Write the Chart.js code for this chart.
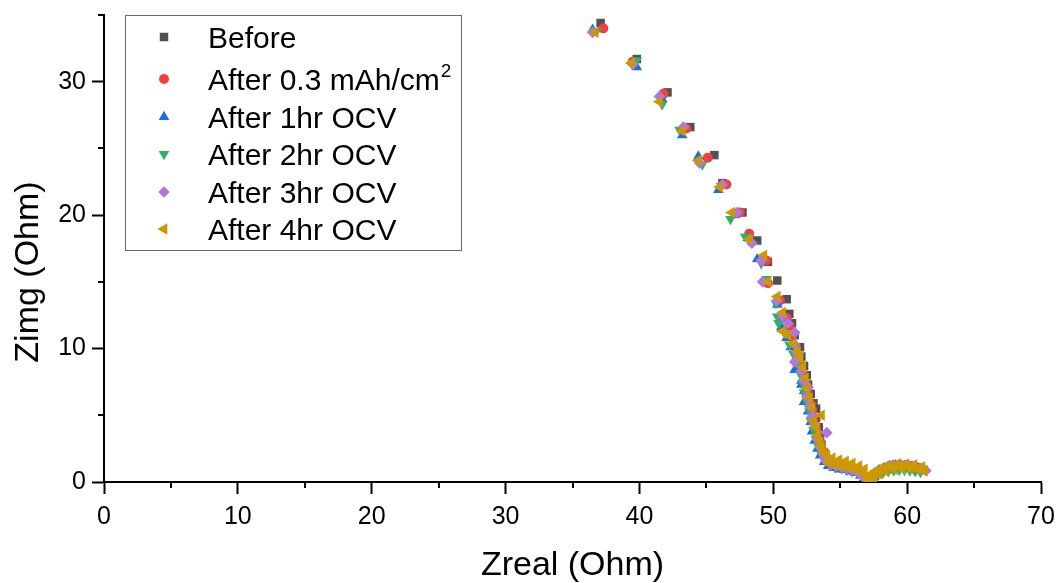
<!DOCTYPE html>
<html>
<head>
<meta charset="utf-8">
<title>Nyquist</title>
<script src="https://cdn.jsdelivr.net/npm/chart.js@4/dist/chart.umd.min.js"></script>
<style>
  html, body { margin: 0; padding: 0; background: #fff; }
  #wrap { width: 1057px; height: 583px; }
</style>
</head>
<body>
<div id="wrap"><canvas id="nyquist" width="1057" height="583"></canvas></div>
<script>
// ========== Datos ==========
const xTickLabels = [0, 10, 20, 30, 40, 50, 60, 70];
const yTickLabels = [0, 10, 20, 30];

const xTitle = "Zreal (Ohm)";
const yTitle = "Zimg (Ohm)";

const seriesNames = [
  "Before",
  "After 0.3 mAh/cm^2",
  "After 1hr OCV",
  "After 2hr OCV",
  "After 3hr OCV",
  "After 4hr OCV",
];

// [Zreal, Zimg] in Ohm
const before = [
  [37.1, 34.4], [39.8, 31.7], [42.1, 29.2], [43.8, 26.6], [45.6, 24.5], [46.2, 22.4],
  [47.7, 20.2], [48.8, 18.1], [49.6, 16.5], [50.3, 15.1], [51.0, 13.7], [51.2, 12.6],
  [51.4, 11.9], [51.6, 11.0], [52.0, 10.1], [52.1, 9.4], [52.3, 8.7], [52.5, 8.0],
  [52.6, 7.3], [52.8, 6.6], [53.0, 5.9], [53.2, 5.5], [53.2, 4.8], [53.4, 4.1],
  [53.5, 3.4], [53.6, 2.8], [53.8, 2.2], [54.1, 1.65], [54.5, 1.3], [54.9, 1.15],
  [55.3, 1.05], [55.7, 0.95], [56.1, 0.8], [56.5, 0.6], [56.8, 0.35], [57.0, 0.15],
  [57.3, 0.15], [57.6, 0.45], [57.9, 0.65], [58.3, 0.85], [58.7, 1.0], [59.1, 1.1],
  [59.5, 1.15], [59.9, 1.15], [60.3, 1.1], [60.7, 1.0], [61.1, 0.9],
];

const after03 = [
  [37.3, 34.0], [39.5, 31.5], [41.8, 29.1], [43.5, 26.5], [45.1, 24.3], [46.5, 22.3],
  [47.5, 20.2], [48.2, 18.6], [49.5, 16.6], [49.6, 14.9], [50.5, 13.6], [51.0, 12.3],
  [51.2, 11.7], [51.3, 10.9], [51.5, 10.2], [51.8, 9.5], [52.0, 8.8], [52.2, 8.1],
  [52.4, 7.4], [52.5, 6.7], [52.7, 6.0], [52.9, 5.4], [53.0, 4.7], [53.2, 4.0],
  [53.3, 3.4], [53.5, 2.8], [53.7, 2.2], [54.0, 1.7], [54.4, 1.35], [54.8, 1.2],
  [55.2, 1.1], [55.6, 1.0], [56.0, 0.9], [56.4, 0.75], [56.7, 0.5], [57.0, 0.25],
  [57.3, 0.25], [57.6, 0.6], [57.9, 0.85], [58.3, 1.05], [58.7, 1.2], [59.1, 1.25],
  [59.5, 1.25], [59.9, 1.25], [60.3, 1.2], [60.7, 1.1], [61.1, 0.95],
];

const after1hr = [
  [36.5, 33.9], [39.8, 31.1], [41.7, 28.7], [43.2, 26.0], [44.4, 24.4], [45.9, 21.9],
  [47.1, 20.0], [48.1, 18.3], [48.8, 16.7], [49.4, 15.0], [50.3, 13.3], [50.6, 12.2],
  [50.6, 11.6], [51.0, 10.8], [51.3, 10.1], [51.7, 9.3], [51.6, 8.4], [52.1, 7.6],
  [52.1, 7.3], [52.3, 6.8], [52.3, 6.0], [52.6, 5.3], [52.8, 4.5], [52.9, 3.8],
  [53.1, 3.1], [53.3, 2.5], [53.5, 2.0], [53.8, 1.5], [54.1, 1.2], [54.5, 1.05],
  [54.9, 0.95], [55.3, 0.9], [55.7, 0.8], [56.1, 0.7], [56.5, 0.5], [56.8, 0.3],
  [57.0, 0.1], [57.3, 0.3], [57.6, 0.65], [57.9, 0.9], [58.3, 1.05], [58.7, 1.2],
  [59.1, 1.25], [59.5, 1.25], [59.9, 1.2], [60.3, 1.15], [60.7, 1.05], [61.1, 0.95],
];

const after2hr = [
  [36.8, 33.8], [39.8, 31.6], [41.7, 28.3], [43.0, 26.4], [44.7, 23.8], [46.1, 22.2],
  [46.8, 19.7], [47.9, 18.4], [49.1, 16.4], [49.5, 15.2], [50.2, 13.4], [50.3, 12.4],
  [50.4, 11.9], [50.9, 11.1], [51.2, 10.3], [51.5, 9.6], [51.8, 8.9], [52.0, 8.1],
  [52.2, 7.4], [52.3, 6.7], [52.5, 6.0], [52.7, 5.3], [52.8, 4.6], [53.0, 3.9],
  [53.2, 3.2], [53.4, 2.6], [53.6, 2.1], [53.9, 1.6], [54.3, 1.25], [54.7, 1.1],
  [55.1, 1.0], [55.5, 0.9], [55.9, 0.8], [56.3, 0.65], [56.7, 0.4], [56.9, 0.2],
  [57.2, 0.1], [57.5, 0.35], [57.8, 0.55], [58.2, 0.7], [58.6, 0.8], [59.0, 0.85],
  [59.4, 0.9], [59.8, 0.9], [60.2, 0.85], [60.6, 0.8], [61.0, 0.75],
];

const after3hr = [
  [36.5, 33.7], [39.5, 31.3], [41.5, 28.9], [43.3, 26.6], [44.5, 23.9], [46.2, 22.3],
  [47.3, 20.2], [48.4, 17.9], [49.1, 16.6], [49.2, 15.0], [50.3, 13.6], [50.7, 12.4],
  [51.1, 11.9], [51.6, 11.2], [51.6, 10.3], [51.8, 9.6], [51.6, 9.0], [52.1, 8.3],
  [52.3, 7.6], [52.6, 7.1], [52.5, 6.4], [52.7, 5.7], [52.9, 4.9], [53.1, 4.3],
  [54.0, 3.7], [53.3, 3.2], [53.5, 2.6], [53.7, 2.1], [53.9, 1.65], [54.3, 1.3],
  [54.7, 1.2], [55.1, 1.1], [55.5, 1.0], [55.9, 0.9], [56.3, 0.75], [56.6, 0.5],
  [56.9, 0.3], [57.2, 0.2], [57.5, 0.5], [57.8, 0.75], [58.2, 0.95], [58.6, 1.15],
  [59.0, 1.25], [59.4, 1.3], [59.8, 1.25], [60.2, 1.2], [60.6, 1.1], [61.0, 1.0],
  [61.4, 0.85],
];

const after4hr = [
  [36.7, 33.7], [39.4, 31.4], [41.5, 28.5], [43.2, 26.3], [44.4, 24.1], [46.0, 22.1],
  [46.9, 20.2], [48.2, 18.2], [49.3, 17.0], [49.6, 15.0], [50.3, 13.9], [50.7, 12.7],
  [50.7, 11.3], [51.1, 11.0], [51.5, 10.4], [51.8, 9.8], [52.0, 9.3], [52.2, 8.6],
  [52.4, 7.8], [52.5, 7.0], [52.7, 6.3], [52.9, 5.6], [53.6, 5.0], [53.0, 4.6],
  [53.2, 4.1], [53.3, 3.5], [53.5, 3.0], [53.6, 2.6], [53.8, 2.2], [54.0, 2.0],
  [54.1, 1.45], [54.4, 1.8], [54.6, 1.3], [54.9, 1.65], [55.1, 1.2], [55.4, 1.55],
  [55.6, 1.1], [55.9, 1.4], [56.1, 0.95], [56.4, 1.2], [56.6, 0.75], [56.8, 0.95],
  [57.0, 0.4], [57.1, 0.15], [57.3, 0.5], [57.5, 0.3], [57.6, 0.8], [57.9, 0.6],
  [58.1, 1.05], [58.4, 0.8], [58.7, 1.25], [59.0, 0.95], [59.3, 1.35], [59.6, 1.0],
  [59.9, 1.35], [60.2, 1.0], [60.5, 1.3], [60.8, 0.95], [61.1, 1.15], [61.3, 0.85],
];

const seriesData = [before, after03, after1hr, after2hr, after3hr, after4hr];

// ========== Estilos ==========
const FONT = "'Liberation Sans', Arial, sans-serif";

const markers = [
  { style: "rect", color: "#515151", radius: 6, rotation: 0 },
  { style: "circle", color: "#F14040", radius: 5, rotation: 0 },
  { style: "triangle", color: "#1A6FDF", radius: 6.2, rotation: 0 },
  { style: "triangle", color: "#37AD6B", radius: 6.2, rotation: 180 },
  { style: "rectRot", color: "#B177DE", radius: 5.8, rotation: 0 },
  { style: "triangle", color: "#CC9900", radius: 6.6, rotation: -90 },
];

// ========== Marcadores de la leyenda ==========
function drawMarker(ctx, m, x, y) {
  const r = m.radius;
  ctx.fillStyle = m.color;
  ctx.beginPath();
  if (m.style === "circle") {
    ctx.arc(x, y, r, 0, Math.PI * 2);
  } else if (m.style === "rect") {
    const s = Math.SQRT1_2 * r;
    ctx.rect(x - s, y - s, 2 * s, 2 * s);
  } else if (m.style === "rectRot") {
    ctx.moveTo(x, y - r);
    ctx.lineTo(x + r, y);
    ctx.lineTo(x, y + r);
    ctx.lineTo(x - r, y);
  } else {
    let a = (m.rotation * Math.PI) / 180;
    ctx.moveTo(x + Math.sin(a) * r, y - Math.cos(a) * r);
    a += (2 * Math.PI) / 3;
    ctx.lineTo(x + Math.sin(a) * r, y - Math.cos(a) * r);
    a += (2 * Math.PI) / 3;
    ctx.lineTo(x + Math.sin(a) * r, y - Math.cos(a) * r);
  }
  ctx.closePath();
  ctx.fill();
}

const legendPlugin = {
  id: "boxLegend",
  afterDraw(chart) {
    const ctx = chart.ctx;
    const rows = [37, 79, 117, 154, 192, 229];
    ctx.save();
    ctx.fillStyle = "#fff";
    ctx.fillRect(125.5, 15.5, 336, 235);
    ctx.strokeStyle = "#6a6a6a";
    ctx.lineWidth = 1;
    ctx.strokeRect(125.5, 15.5, 336, 235);

    seriesNames.forEach((name, i) => {
      const cy = rows[i];
      drawMarker(ctx, markers[i], 164, cy);
      const parts = name.split("^");
      ctx.fillStyle = "#000";
      ctx.textBaseline = "alphabetic";
      ctx.textAlign = "left";
      ctx.font = "30px " + FONT;
      const base = cy + 10.7;
      ctx.fillText(parts[0], 208, base);
      if (parts[1]) {
        const w = ctx.measureText(parts[0]).width;
        ctx.font = "19px " + FONT;
        ctx.fillText(parts[1], 208 + w + 1, base - 13);
      }
    });
    ctx.restore();
  },
};

// ========== Rayas menores y titulo vertical ==========
const minorTicksPlugin = {
  id: "minorTicks",
  afterDraw(chart) {
    const { ctx, scales } = chart;
    const x = scales.x;
    const y = scales.y;
    ctx.save();
    ctx.strokeStyle = "#000";
    ctx.lineWidth = 2;
    ctx.beginPath();
    x.ticks.forEach((t) => {
      if (xTickLabels.includes(t.value)) return;
      const px = Math.round(x.getPixelForValue(t.value));
      ctx.moveTo(px, y.bottom);
      ctx.lineTo(px, y.bottom + 6);
    });
    y.ticks.forEach((t) => {
      if (yTickLabels.includes(t.value)) return;
      const py = Math.round(y.getPixelForValue(t.value));
      ctx.moveTo(x.left, py);
      ctx.lineTo(x.left - 6, py);
    });
    ctx.stroke();

    // titulo del eje Y, algo por debajo del centro como en el original
    ctx.translate(29, 272);
    ctx.rotate(-Math.PI / 2);
    ctx.fillStyle = "#000";
    ctx.font = "34px " + FONT;
    ctx.textAlign = "center";
    ctx.textBaseline = "middle";
    ctx.fillText(yTitle, 0, 0);
    ctx.restore();
  },
};

// ========== Grafico ==========
function crearGrafico() {
  const ctx = document.getElementById("nyquist").getContext("2d");

  const datasets = seriesData.map((d, i) => ({
    label: seriesNames[i].replace("^", ""),
    data: d,
    showLine: false,
    order: seriesData.length - i,
    pointStyle: markers[i].style,
    pointRotation: markers[i].rotation,
    pointRadius: markers[i].radius,
    pointHoverRadius: markers[i].radius,
    pointBackgroundColor: markers[i].color,
    pointBorderColor: markers[i].color,
    pointBorderWidth: 0,
    clip: 0,
  }));

  const axisTicks = (labels) => ({
    stepSize: 5,
    autoSkip: false,
    maxRotation: 0,
    color: "#000",
    font: { family: FONT, size: 25 },
    callback: (v) => (labels.includes(v) ? String(v) : ""),
  });

  const axisGrid = (labels) => ({
    display: true,
    drawOnChartArea: false,
    drawTicks: true,
    tickLength: 12,
    tickWidth: 2,
    tickColor: (c) => (c.tick && labels.includes(c.tick.value) ? "#000" : "rgba(0,0,0,0)"),
  });

  new Chart(ctx, {
    type: "scatter",
    data: { datasets: datasets },
    options: {
      responsive: false,
      animation: false,
      events: [],
      layout: { padding: { left: 0, top: 15, right: 16, bottom: 0 } },
      plugins: {
        legend: { display: false },
        tooltip: { enabled: false },
      },
      scales: {
        x: {
          type: "linear",
          min: 0,
          max: 70,
          z: 1,
          border: { display: true, color: "#000", width: 2 },
          grid: axisGrid(xTickLabels),
          ticks: { ...axisTicks(xTickLabels), padding: 8 },
          title: {
            display: true,
            text: xTitle,
            color: "#000",
            font: { family: FONT, size: 34, lineHeight: 1 },
            padding: { top: 0, bottom: 0 },
          },
          afterFit: (scale) => {
            scale.height = 101;
            scale.paddingLeft = 0;
            scale.paddingRight = 0;
          },
        },
        y: {
          type: "linear",
          min: 0,
          max: 35,
          z: 1,
          border: { display: true, color: "#000", width: 2 },
          grid: axisGrid(yTickLabels),
          ticks: { ...axisTicks(yTickLabels), padding: 6 },
          title: { display: false },
          afterFit: (scale) => {
            scale.width = 104;
            scale.paddingTop = 0;
            scale.paddingBottom = 0;
          },
        },
      },
    },
    plugins: [minorTicksPlugin, legendPlugin],
  });
}

document.addEventListener("DOMContentLoaded", () => {
  crearGrafico();
});
</script>
</body>
</html>
